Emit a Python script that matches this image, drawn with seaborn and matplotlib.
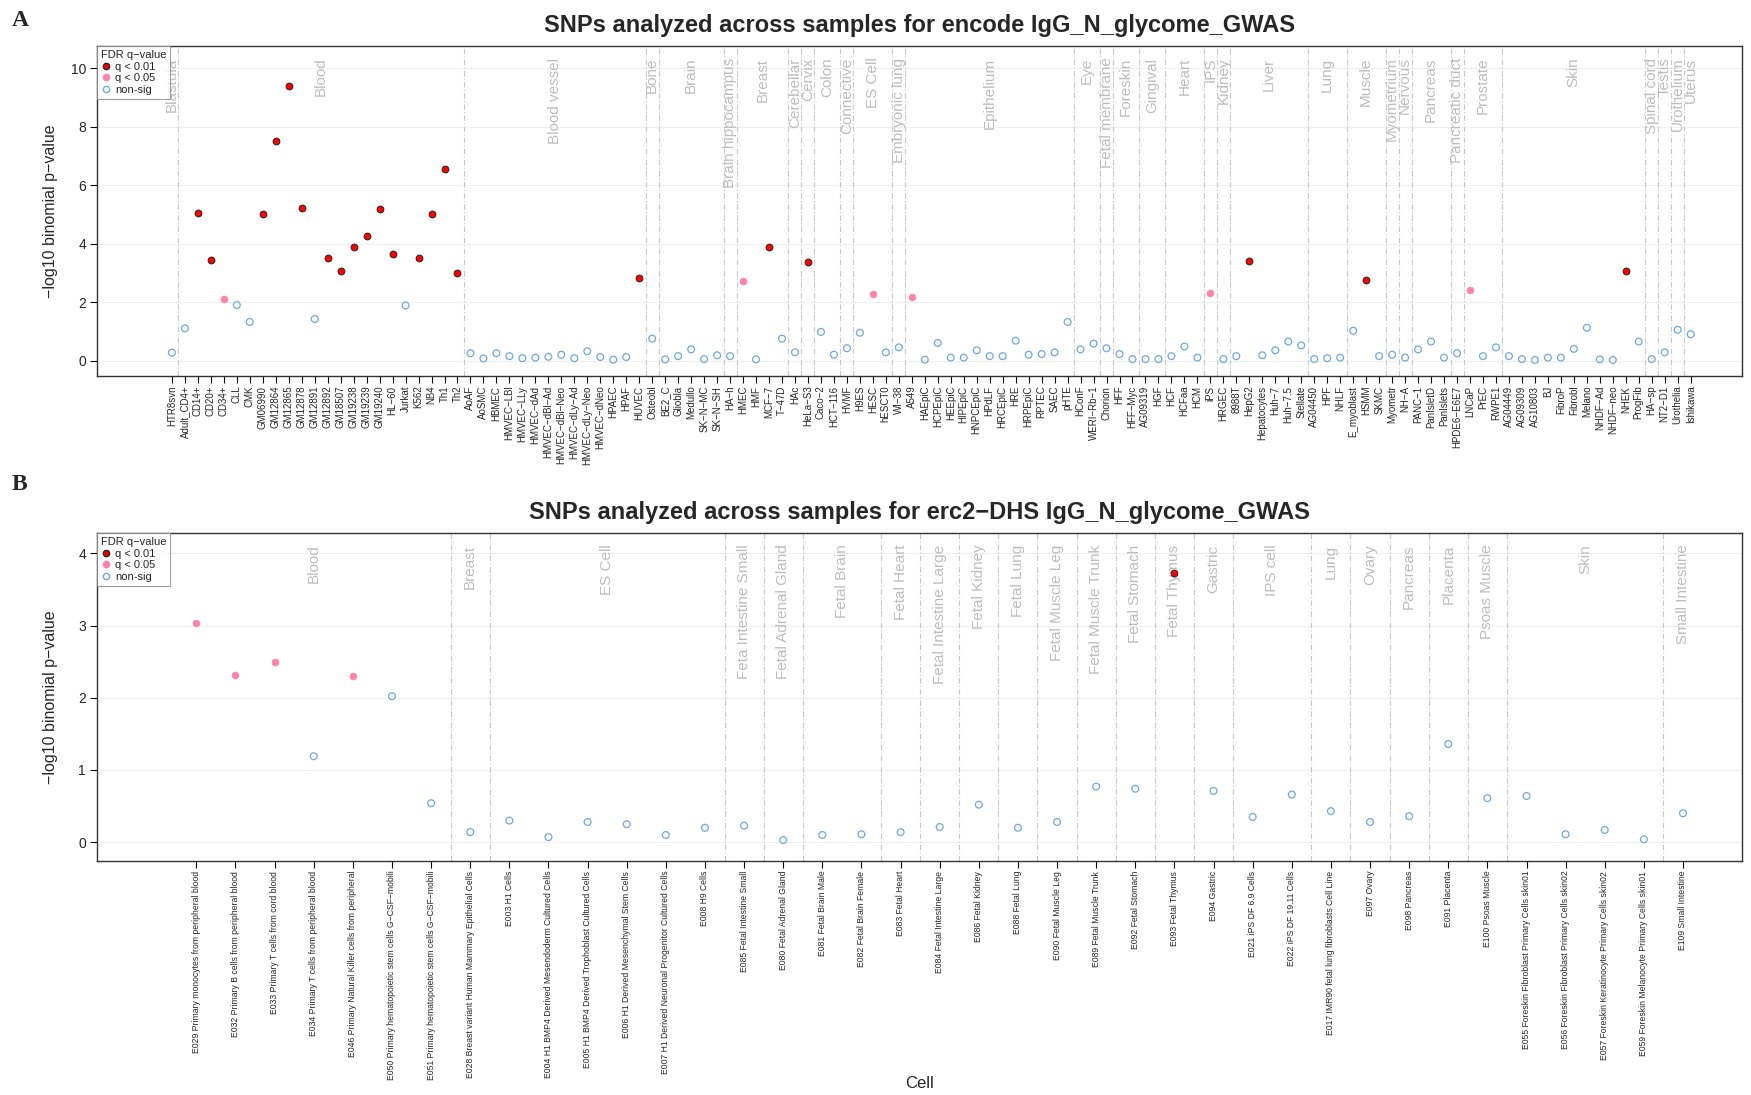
import numpy as np
import pandas as pd
import matplotlib
matplotlib.use("Agg")
import matplotlib.pyplot as plt
import matplotlib.transforms as mtransforms
from matplotlib.lines import Line2D
import seaborn as sns

sns.set_theme(style="white")
plt.rcParams["font.family"] = ["Liberation Sans", "DejaVu Sans"]

# ---------------- Panel A data ----------------
a_group_names = ["Blastula", "Blood", "Blood vessel", "Bone", "Brain", "Brain hippocampus",
                 "Breast", "Cerebellar", "Cervix", "Colon", "Connective", "ES Cell",
                 "Embryonic lung", "Epithelium", "Eye", "Fetal membrane", "Foreskin",
                 "Gingival", "Heart", "IPS", "Kidney", "Liver", "Lung", "Muscle",
                 "Myometrium", "Nervous", "Pancreas", "Pancreatic duct", "Prostate",
                 "Skin", "Spinal cord", "Testis", "Urothelium", "Uterus"]
a_group_sizes = [1, 22, 14, 1, 5, 1, 4, 1, 1, 2, 1, 3, 1, 13, 2, 1, 2, 2, 3, 1, 1, 6,
                 3, 3, 1, 1, 3, 1, 3, 11, 1, 1, 1, 1]
a_samples = ["HTR8svn",
             "Adult_CD4+", "CD14+", "CD20+", "CD34+", "CLL", "CMK", "GM06990", "GM12864",
             "GM12865", "GM12878", "GM12891", "GM12892", "GM18507", "GM19238", "GM19239",
             "GM19240", "HL\u221260", "Jurkat", "K562", "NB4", "Th1", "Th2",
             "AoAF", "AoSMC", "HBMEC", "HMVEC\u2212LBl", "HMVEC\u2212LLy", "HMVEC\u2212dAd",
             "HMVEC\u2212dBl\u2212Ad", "HMVEC\u2212dBl\u2212Neo", "HMVEC\u2212dLy\u2212Ad",
             "HMVEC\u2212dLy\u2212Neo", "HMVEC\u2212dNeo", "HPAEC", "HPAF", "HUVEC",
             "Osteobl",
             "BE2_C", "Gliobla", "Medullo", "SK\u2212N\u2212MC", "SK\u2212N\u2212SH",
             "HA\u2212h",
             "HMEC", "HMF", "MCF\u22127", "T\u221247D",
             "HAc", "HeLa\u2212S3", "Caco\u22122", "HCT\u2212116", "HVMF",
             "H9ES", "HESC", "hESCT0", "WI\u221238",
             "A549", "HAEpiC", "HCPEpiC", "HEEpiC", "HIPEpiC", "HNPCEpiC", "HPdLF",
             "HRCEpiC", "HRE", "HRPEpiC", "RPTEC", "SAEC", "pHTE",
             "HConF", "WERI\u2212Rb\u22121", "Chorion", "HFF", "HFF\u2212Myc",
             "AG09319", "HGF", "HCF", "HCFaa", "HCM", "iPS", "HRGEC",
             "8988T", "HepG2", "Hepatocytes", "Huh\u22127", "Huh\u22127.5", "Stellate",
             "AG04450", "HPF", "NHLF", "E_myoblast", "HSMM", "SKMC", "Myometr", "NH\u2212A",
             "PANC\u22121", "PanIsletD", "PanIslets", "HPDE6\u2212E6E7", "LNCaP", "PrEC",
             "RWPE1",
             "AG04449", "AG09309", "AG10803", "BJ", "FibroP", "Fibrobl", "Melano",
             "NHDF\u2212Ad", "NHDF\u2212neo", "NHEK", "ProgFib",
             "HA\u2212sp", "NT2\u2212D1", "Urothelia", "Ishikawa"]
a_values = [0.27,
            1.10, 5.05, 3.45, 2.10, 1.90, 1.32, 5.00, 7.50, 9.40, 5.22, 1.42, 3.50, 3.05,
            3.90, 4.25, 5.20, 3.65, 1.88, 3.50, 5.00, 6.55, 3.00,
            0.25, 0.07, 0.25, 0.15, 0.08, 0.10, 0.13, 0.20, 0.08, 0.32, 0.12, 0.03, 0.12,
            2.82,
            0.75,
            0.04, 0.15, 0.38, 0.05, 0.18,
            0.15,
            2.72, 0.04, 3.90, 0.75,
            0.28, 3.38, 0.98, 0.20, 0.42,
            0.95, 2.28, 0.28, 0.45,
            2.18, 0.03, 0.60, 0.10, 0.10, 0.35, 0.15, 0.15, 0.68, 0.20, 0.22, 0.28, 1.32,
            0.38, 0.58, 0.42, 0.22, 0.05, 0.05, 0.05, 0.15, 0.48, 0.10, 2.30, 0.05,
            0.15, 3.40, 0.18, 0.35, 0.65, 0.52,
            0.05, 0.08, 0.10, 1.02, 2.75, 0.15, 0.20, 0.10,
            0.38, 0.65, 0.10, 0.25, 2.42, 0.15, 0.45,
            0.15, 0.05, 0.02, 0.10, 0.10, 0.40, 1.12, 0.04, 0.02, 3.05, 0.65,
            0.05, 0.28, 1.05, 0.90]
# significance class: R = q<0.01, P = q<0.05, N = non-sig
a_sig = list("N" + "NRRPNNRRRRNRRRRRRNRRRR" + "N" * 13 + "R" + "N" + "NNNNN" + "N"
             + "PNRN" + "NRNNN" + "NPNN" + "P" + "N" * 12 + "N" * 10 + "PN"
             + "NRNNNN" + "NNNNRNNN" + "NNNNPNN" + "N" * 9 + "RN" + "NNNN")

# ---------------- Panel B data ----------------
b_group_names = ["Blood", "Breast", "ES Cell", "Feta Intestine Small", "Fetal Adrenal Gland",
                 "Fetal Brain", "Fetal Heart", "Fetal Intestine Large", "Fetal Kidney",
                 "Fetal Lung", "Fetal Muscle Leg", "Fetal Muscle Trunk", "Fetal Stomach",
                 "Fetal Thymus", "Gastric", "IPS cell", "Lung", "Ovary", "Pancreas",
                 "Placenta", "Psoas Muscle", "Skin", "Small Intestine"]
b_group_sizes = [7, 1, 6, 1, 1, 2, 1, 1, 1, 1, 1, 1, 1, 1, 1, 2, 1, 1, 1, 1, 1, 4, 1]
b_samples = ["E029 Primary monocytes from peripheral blood",
             "E032 Primary B cells from peripheral blood",
             "E033 Primary T cells from cord blood",
             "E034 Primary T cells from peripheral blood",
             "E046 Primary Natural Killer cells from peripheral",
             "E050 Primary hematopoietic stem cells G\u2212CSF\u2212mobili",
             "E051 Primary hematopoietic stem cells G\u2212CSF\u2212mobili",
             "E028 Breast variant Human Mammary Epithelial Cells",
             "E003 H1 Cells",
             "E004 H1 BMP4 Derived Mesendoderm Cultured Cells",
             "E005 H1 BMP4 Derived Trophoblast Cultured Cells",
             "E006 H1 Derived Mesenchymal Stem Cells",
             "E007 H1 Derived Neuronal Progenitor Cultured Cells",
             "E008 H9 Cells",
             "E085 Fetal Intestine Small",
             "E080 Fetal Adrenal Gland",
             "E081 Fetal Brain Male",
             "E082 Fetal Brain Female",
             "E083 Fetal Heart",
             "E084 Fetal Intestine Large",
             "E086 Fetal Kidney",
             "E088 Fetal Lung",
             "E090 Fetal Muscle Leg",
             "E089 Fetal Muscle Trunk",
             "E092 Fetal Stomach",
             "E093 Fetal Thymus",
             "E094 Gastric",
             "E021 iPS DF 6.9 Cells",
             "E022 iPS DF 19.11 Cells",
             "E017 IMR90 fetal lung fibroblasts Cell Line",
             "E097 Ovary",
             "E098 Pancreas",
             "E091 Placenta",
             "E100 Psoas Muscle",
             "E055 Foreskin Fibroblast Primary Cells skin01",
             "E056 Foreskin Fibroblast Primary Cells skin02",
             "E057 Foreskin Keratinocyte Primary Cells skin02",
             "E059 Foreskin Melanocyte Primary Cells skin01",
             "E109 Small Intestine"]
b_values = [3.03, 2.32, 2.50, 1.19, 2.30, 2.02, 0.54,
            0.14,
            0.30, 0.07, 0.28, 0.25, 0.10, 0.20,
            0.23, 0.03, 0.10, 0.11, 0.14, 0.21, 0.52, 0.20, 0.28, 0.77, 0.74,
            3.73, 0.71, 0.35, 0.66, 0.43, 0.28, 0.36, 1.36, 0.61,
            0.64, 0.11, 0.17, 0.04, 0.40]
b_sig = list("PPPNPNN" + "N" + "NNNNNN" + "N" * 11 + "R" + "N" * 13)

SIG_LABEL = {"R": "q < 0.01", "P": "q < 0.05", "N": "non-sig"}
RED, PINK, BLUE = "#FF0000", "#FF82AB", "#6FA8DC"
GROUP_COL = "#BDBDBD"


def make_df(samples, values, sig):
    return pd.DataFrame({"pos": np.arange(len(samples)), "sample": samples,
                         "value": values, "sig": [SIG_LABEL[s] for s in sig]})


def draw_panel(ax, df, group_names, group_sizes, xlim, ylim, yticks, title, xfs):
    trans = mtransforms.blended_transform_factory(ax.transData, ax.transAxes)
    for y in yticks:
        ax.axhline(y, color="#EFEFEF", lw=0.8, zorder=0)
    starts = np.cumsum([0] + group_sizes[:-1])
    for name, st, sz in zip(group_names, starts, group_sizes):
        if st > 0:
            ax.axvline(st - 0.5, color="#C8C8C8", lw=0.8,
                       linestyle=(0, (5, 2, 1, 2)), zorder=1)
        ax.text(st + (sz - 1) / 2, 0.965, name, transform=trans, rotation=90,
                ha="center", va="top", color=GROUP_COL, fontsize=11, zorder=1)
    sub = df[df.sig == "non-sig"]
    sns.scatterplot(data=sub, x="pos", y="value", ax=ax, s=24, marker="o",
                    facecolor="none", edgecolor=BLUE, linewidth=0.9, legend=False, zorder=3)
    sub = df[df.sig == "q < 0.05"]
    sns.scatterplot(data=sub, x="pos", y="value", ax=ax, s=24, marker="o",
                    color=PINK, edgecolor=PINK, linewidth=0.5, legend=False, zorder=4)
    sub = df[df.sig == "q < 0.01"]
    sns.scatterplot(data=sub, x="pos", y="value", ax=ax, s=24, marker="o",
                    color=RED, edgecolor="#222222", linewidth=0.7, legend=False, zorder=5)
    ax.set_xlim(*xlim)
    ax.set_ylim(*ylim)
    ax.set_xticks(df["pos"])
    ax.set_xticklabels(df["sample"], rotation=90, fontsize=xfs)
    ax.set_yticks(yticks)
    ax.set_yticklabels([str(t) for t in yticks], fontsize=10)
    ax.tick_params(axis="both", which="both", direction="out", length=5, width=0.8,
                   color="black", bottom=True, left=True, pad=3)
    ax.tick_params(axis="x", pad=2)
    for sp in ax.spines.values():
        sp.set_visible(True)
        sp.set_color("#333333")
        sp.set_linewidth(1.0)
    ax.set_xlabel("")
    ax.set_ylabel("\u2212log10 binomial p\u2212value", fontsize=11.5)
    ax.yaxis.set_label_coords(-0.024, 0.5)
    ax.set_title(title, fontsize=17, fontweight="bold", pad=10)
    handles = [Line2D([], [], marker="o", ls="none", markerfacecolor=RED,
                      markeredgecolor="#222222", markersize=4.5, label="q < 0.01"),
               Line2D([], [], marker="o", ls="none", markerfacecolor=PINK,
                      markeredgecolor=PINK, markersize=4.5, label="q < 0.05"),
               Line2D([], [], marker="o", ls="none", markerfacecolor="none",
                      markeredgecolor=BLUE, markersize=4.5, label="non-sig")]
    leg = ax.legend(handles=handles, title="FDR q\u2212value", loc="upper left",
                    bbox_to_anchor=(0, 1), borderaxespad=0, fontsize=8, title_fontsize=8,
                    frameon=True, fancybox=False, edgecolor="#888888",
                    handletextpad=0.3, borderpad=0.35, labelspacing=0.15,
                    handlelength=1.0, alignment="left")
    leg.get_frame().set_linewidth(0.8)
    leg.set_zorder(10)


df_a = make_df(a_samples, a_values, a_sig)
df_b = make_df(b_samples, b_values, b_sig)

fig = plt.figure(figsize=(17.51, 10.95), dpi=100)
ax_a = fig.add_axes([0.0554, 0.6566, 0.9395, 0.3014])
ax_b = fig.add_axes([0.0554, 0.2137, 0.9395, 0.2995])

draw_panel(ax_a, df_a, a_group_names, a_group_sizes, (-5.77, 120.96), (-0.53, 10.76),
           [0, 2, 4, 6, 8, 10],
           "SNPs analyzed across samples for encode IgG_N_glycome_GWAS", 7)
draw_panel(ax_b, df_b, b_group_names, b_group_sizes, (-2.54, 39.51), (-0.26, 4.28),
           [0, 1, 2, 3, 4],
           "SNPs analyzed across samples for erc2\u2212DHS IgG_N_glycome_GWAS", 6.2)
fig.text(920 / 1751, 1 - 1083 / 1095, "Cell", fontsize=12, ha="center", va="center")

fig.text(12 / 1751, 1 - 20 / 1095, "A", fontsize=17, fontweight="bold",
         family="Liberation Serif", ha="left", va="center")
fig.text(12 / 1751, 1 - 484 / 1095, "B", fontsize=17, fontweight="bold",
         family="Liberation Serif", ha="left", va="center")

fig.savefig("out.png", dpi=100)
